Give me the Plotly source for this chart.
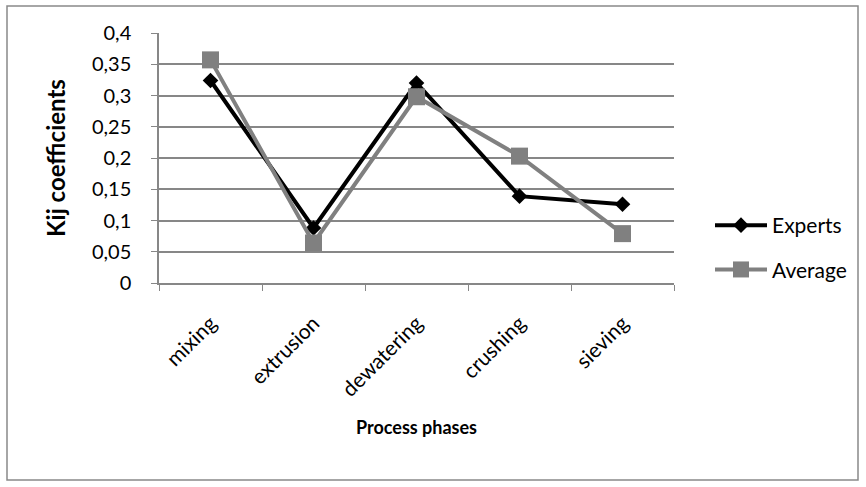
import plotly.graph_objects as go

phases = ["mixing", "extrusion", "dewatering", "crushing", "sieving"]
experts = [0.324, 0.088, 0.320, 0.139, 0.126]
average = [0.357, 0.064, 0.298, 0.203, 0.079]
y_ticks = [0, 0.05, 0.1, 0.15, 0.2, 0.25, 0.3, 0.35, 0.4]

W, H = 866, 487
L, R, T, B = 159, 192, 33, 204
pw, ph = W - L - R, H - T - B

FONT = "Lato, 'Open Sans', sans-serif"
GRID = "#878787"

fig = go.Figure()
fig.add_trace(go.Scatter(
    x=phases, y=experts, name="Experts", mode="lines+markers",
    line=dict(color="#000000", width=4),
    marker=dict(symbol="diamond", size=12, color="#000000"),
    legendgroup="a",
))
fig.add_trace(go.Scatter(
    x=phases, y=average, name="Average", mode="lines+markers",
    line=dict(color="#808080", width=4),
    marker=dict(symbol="square", size=17, color="#808080"),
    legendgroup="b",
))

# outer chart frame
def px_x(p):
    return (p - L) / pw

def px_y(p):
    return (H - B - p) / ph

fig.add_shape(type="rect", xref="paper", yref="paper",
              x0=px_x(7), x1=px_x(858), y0=px_y(480), y1=px_y(6),
              line=dict(color="#898989", width=1.5), fillcolor="rgba(0,0,0,0)")

fig.update_layout(
    width=W, height=H,
    margin=dict(l=L, r=R, t=T, b=B, autoexpand=False),
    paper_bgcolor="white", plot_bgcolor="white",
    separators=", ",
    font=dict(family=FONT, color="#000000", size=20),
    showlegend=True,
    legend=dict(x=px_x(710), y=px_y(205), xanchor="left", yanchor="top",
                font=dict(size=21), tracegroupgap=14, traceorder="grouped",
                bgcolor="rgba(0,0,0,0)", itemwidth=52),
    xaxis=dict(
        type="category", range=[-0.5, 4.5],
        tickson="boundaries", ticks="outside", ticklen=6, tickcolor=GRID,
        showline=True, linecolor=GRID, linewidth=1.5, showgrid=False,
        tickangle=-45, tickfont=dict(size=21), ticklabelstandoff=18,
        title=dict(text="<b>Process phases</b>", font=dict(size=18), standoff=22),
    ),
    yaxis=dict(
        range=[0, 0.4], tickvals=y_ticks,
        ticks="outside", ticklen=6, tickcolor=GRID,
        showline=True, linecolor=GRID, linewidth=1.5,
        showgrid=True, gridcolor=GRID, gridwidth=1.5,
        zeroline=False, tickfont=dict(size=20), ticklabelstandoff=16,
        title=dict(text="<b>Kij coefficients</b>", font=dict(size=24), standoff=20),
    ),
)

fig.write_html("out.html")
